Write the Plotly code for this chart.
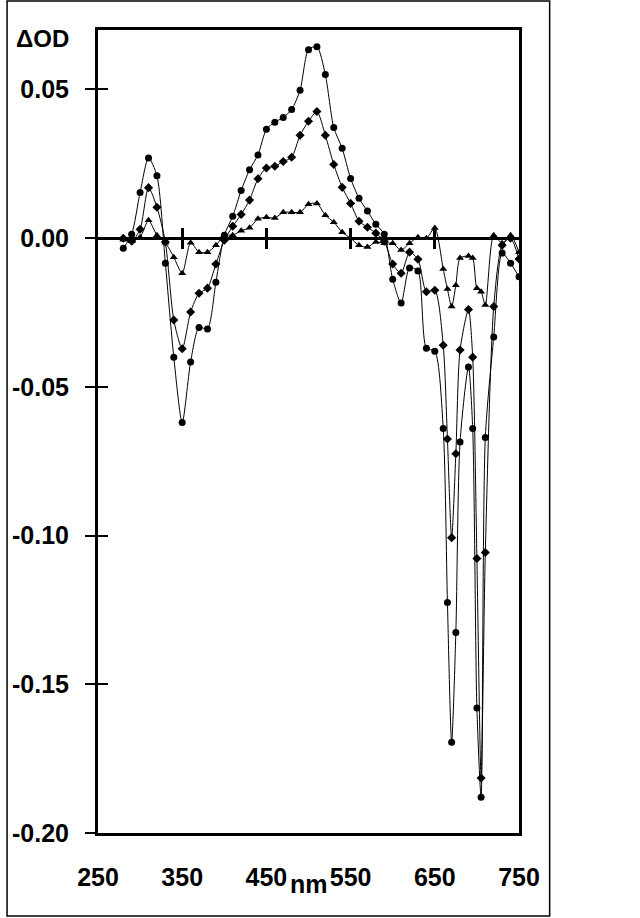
import plotly.graph_objects as go

# Wavelength grid (nm); denser sampling around the 660-710 nm bands
wavelength = [280, 290, 300, 310, 320, 330, 340, 350, 360, 370,
              380, 390, 400, 410, 420, 430, 440, 450, 460, 470,
              480, 490, 500, 510, 520, 530, 540, 550, 560, 570,
              580, 590, 600, 610, 620, 630, 640, 650, 660, 665,
              670, 675, 680, 690, 695, 700, 705, 710, 720, 730,
              740, 750]

# Delta OD, circle series
od_circle = [-0.0034, 0.0013, 0.0154, 0.0270, 0.0210, -0.0084, -0.0400, -0.0620, -0.0416, -0.0300,
             -0.0305, -0.0148, 0.0010, 0.0074, 0.0160, 0.0230, 0.0280, 0.0366, 0.0390, 0.0406,
             0.0433, 0.0497, 0.0634, 0.0644, 0.0550, 0.0372, 0.0302, 0.0201, 0.0134, 0.0091,
             0.0047, 0.0013, -0.0138, -0.0218, -0.0100, -0.0110, -0.0370, -0.0380, -0.0640, -0.1225,
             -0.1695, -0.1326, -0.0685, -0.0433, -0.0640, -0.1580, -0.1880, -0.0670, -0.0332, -0.0050,
             -0.0084, -0.0130]

# Delta OD, diamond series
od_diamond = [0.0000, -0.0010, 0.0030, 0.0170, 0.0104, -0.0013, -0.0275, -0.0372, -0.0248, -0.0185,
              -0.0168, -0.0087, -0.0007, 0.0040, 0.0080, 0.0128, 0.0200, 0.0236, 0.0242, 0.0258,
              0.0272, 0.0346, 0.0393, 0.0426, 0.0346, 0.0248, 0.0171, 0.0117, 0.0057, 0.0037,
              0.0017, -0.0010, -0.0087, -0.0118, -0.0047, -0.0071, -0.0180, -0.0175, -0.0360, -0.0675,
              -0.1007, -0.0725, -0.0376, -0.0240, -0.0400, -0.1077, -0.1815, -0.1057, -0.0230, -0.0024,
              0.0000, -0.0070]

# Delta OD, triangle series
od_triangle = [-0.0005, -0.0010, 0.0003, 0.0060, 0.0010, -0.0015, -0.0064, -0.0118, -0.0015, -0.0047,
               -0.0047, -0.0024, 0.0010, 0.0010, 0.0025, 0.0035, 0.0065, 0.0070, 0.0068, 0.0087,
               0.0087, 0.0087, 0.0114, 0.0117, 0.0077, 0.0054, 0.0020, 0.0000, -0.0024, -0.0030,
               -0.0013, -0.0017, -0.0017, -0.0040, -0.0017, 0.0003, 0.0000, 0.0034, -0.0104, -0.0171,
               -0.0230, -0.0158, -0.0067, -0.0060, -0.0067, -0.0168, -0.0180, -0.0225, 0.0010, -0.0017,
               0.0010, -0.0047]

x_ticks = [250, 350, 450, 550, 650, 750]
zero_line_ticks = [350, 450, 550, 650]
y_ticks = [0.05, 0.00, -0.05, -0.10, -0.15, -0.20]
y_tick_labels = ["0.05", "0.00", "-0.05", "-0.10", "-0.15", "-0.20"]

FONT = "Liberation Sans, Arial, sans-serif"


def add_series(fig, y, symbol, size):
    fig.add_trace(
        go.Scatter(
            x=wavelength,
            y=y,
            mode="lines+markers",
            line=dict(color="black", width=1, shape="spline", smoothing=0.7),
            marker=dict(symbol=symbol, size=size, color="black"),
            showlegend=False,
        )
    )


def create_figure():
    fig = go.Figure()
    add_series(fig, od_circle, "circle", 7)
    add_series(fig, od_diamond, "diamond", 7)
    add_series(fig, od_triangle, "triangle-up", 7)

    x_range = [250, 750]
    y_range = [-0.20, 0.07]
    zero_pos = (0 - y_range[0]) / (y_range[1] - y_range[0])

    fig.update_layout(
        width=640,
        height=918,
        margin=dict(l=93, r=121, t=30, b=85),
        paper_bgcolor="white",
        plot_bgcolor="white",
        font=dict(family=FONT, color="black"),
        xaxis=dict(
            range=x_range,
            tickvals=x_ticks,
            ticks="",
            ticklabelstandoff=20,
            tickfont=dict(size=25, family=FONT, weight="bold"),
            showgrid=False,
            zeroline=False,
            showline=True,
            linecolor="black",
            linewidth=3,
            mirror=True,
        ),
        # tick marks sitting on the zero line (down and up halves)
        xaxis2=dict(
            range=x_range, overlaying="x", anchor="free", position=zero_pos,
            tickvals=zero_line_ticks, ticks="outside", ticklen=10, tickwidth=2.5,
            tickcolor="black", showticklabels=False, showgrid=False,
            zeroline=False, showline=False,
        ),
        xaxis3=dict(
            range=x_range, overlaying="x", anchor="free", position=zero_pos,
            tickvals=zero_line_ticks, ticks="inside", ticklen=10, tickwidth=2.5,
            tickcolor="black", showticklabels=False, showgrid=False,
            zeroline=False, showline=False,
        ),
        yaxis=dict(
            range=y_range,
            tickvals=y_ticks,
            ticktext=y_tick_labels,
            ticks="outside",
            ticklen=10,
            tickwidth=2,
            tickcolor="black",
            ticklabelstandoff=11,
            tickfont=dict(size=25, family=FONT, weight="bold"),
            showgrid=False,
            zeroline=True,
            zerolinecolor="black",
            zerolinewidth=3,
            showline=True,
            linecolor="black",
            linewidth=3,
            mirror=True,
        ),
        yaxis2=dict(
            range=y_range, overlaying="y", side="left",
            tickvals=y_ticks, ticks="inside", ticklen=10, tickwidth=2,
            tickcolor="black", showticklabels=False, showgrid=False,
            zeroline=False, showline=False,
        ),
    )

    # empty traces so the helper axes are drawn
    fig.add_trace(go.Scatter(x=[], y=[], xaxis="x2", showlegend=False))
    fig.add_trace(go.Scatter(x=[], y=[], xaxis="x3", showlegend=False))
    fig.add_trace(go.Scatter(x=[], y=[], yaxis="y2", showlegend=False))

    fig.add_annotation(
        text="<b>ΔOD</b>", xref="paper", yref="paper",
        x=-0.2, y=0.99, xanchor="left", yanchor="middle",
        showarrow=False, font=dict(size=24, family=FONT),
    )
    fig.add_annotation(
        text="<b>nm</b>", xref="paper", yref="paper",
        x=0.5, y=-0.064, xanchor="center", yanchor="middle",
        showarrow=False, font=dict(size=25, family=FONT),
    )

    # thin outer frame around the whole picture
    fig.add_shape(
        type="rect", xref="paper", yref="paper",
        x0=-0.216, x1=1.0728, y0=-0.1034, y1=1.036,
        line=dict(color="black", width=1.5),
    )
    return fig


def main():
    fig = create_figure()
    # drop the default page margin so the figure sits at the window's corner
    fig.write_html(
        "out.html",
        config={"displayModeBar": False},
        post_script="document.body.style.margin = '0';",
    )


if __name__ == "__main__":
    main()
